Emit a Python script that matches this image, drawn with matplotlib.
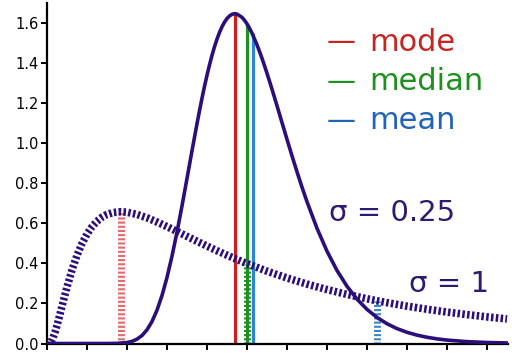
import numpy as np
import matplotlib
matplotlib.use("Agg")
import matplotlib.pyplot as plt
from matplotlib.ticker import MultipleLocator, FixedLocator

# log-normal pdf, sigma = 0.25
x_narrow = [0.0, 0.3, 0.35, 0.4, 0.425, 0.45, 0.475, 0.5, 0.525, 0.55, 0.575,
            0.6, 0.625, 0.65, 0.675, 0.7, 0.725, 0.75, 0.7625, 0.775, 0.7875,
            0.8, 0.8125, 0.825, 0.8375, 0.85, 0.8625, 0.875, 0.8875, 0.9,
            0.9125, 0.925, 0.939, 0.95, 0.975, 0.9875, 1.0, 1.0125, 1.025,
            1.05, 1.0625, 1.075, 1.0875, 1.1, 1.1125, 1.125, 1.1375, 1.15,
            1.175, 1.2, 1.225, 1.25, 1.275, 1.3, 1.35, 1.4, 1.45, 1.5, 1.55,
            1.6, 1.65, 1.7, 1.75, 1.8, 1.85, 1.9, 1.95, 2.0, 2.1, 2.2, 2.3]
y_narrow = [0.0, 0.0, 0.0007, 0.0048, 0.0107, 0.0216, 0.0399, 0.0683, 0.1097,
            0.1663, 0.2395, 0.3299, 0.4361, 0.5561, 0.6870, 0.8239, 0.9623,
            1.0973, 1.1622, 1.2245, 1.2837, 1.3393, 1.3910, 1.4385, 1.4816,
            1.5198, 1.5531, 1.5814, 1.6044, 1.6224, 1.6353, 1.6433, 1.6471,
            1.6448, 1.6283, 1.6139, 1.5958, 1.5741, 1.5493, 1.4911, 1.4584,
            1.4236, 1.3871, 1.3490, 1.3097, 1.2694, 1.2284, 1.1869, 1.1030,
            1.0193, 0.9370, 0.8571, 0.7805, 0.7078, 0.5751, 0.4607, 0.3647,
            0.2855, 0.2215, 0.1703, 0.1300, 0.0987, 0.0744, 0.0559, 0.0418,
            0.0311, 0.0231, 0.0171, 0.0093, 0.0050, 0.0027]

# log-normal pdf, sigma = 1
x_wide = [0.0, 0.005, 0.01, 0.015, 0.02, 0.025, 0.03, 0.04, 0.05, 0.06, 0.07,
          0.08, 0.09, 0.1, 0.125, 0.15, 0.175, 0.2, 0.225, 0.25, 0.275, 0.3,
          0.33, 0.368, 0.4, 0.45, 0.5, 0.55, 0.6, 0.65, 0.7, 0.75, 0.8, 0.85,
          0.9, 0.95, 1.0, 1.1, 1.2, 1.3, 1.4, 1.5, 1.6, 1.65, 1.7, 1.8, 1.9,
          2.0, 2.1, 2.2, 2.3]
y_wide = [0.0, 0.0001, 0.001, 0.0039, 0.0095, 0.0177, 0.0284, 0.0562, 0.0898,
          0.1271, 0.1661, 0.2054, 0.2441, 0.2815, 0.3673, 0.4399, 0.4991,
          0.5463, 0.5828, 0.6104, 0.6305, 0.6442, 0.6538, 0.6577, 0.6555,
          0.6445, 0.6275, 0.6066, 0.5836, 0.5594, 0.5348, 0.5104, 0.4864,
          0.4632, 0.4408, 0.4194, 0.3989, 0.3610, 0.3270, 0.2965, 0.2693,
          0.2450, 0.2233, 0.2133, 0.2039, 0.1865, 0.1709, 0.1569, 0.1443,
          0.1329, 0.1226]

# mode, median, mean positions and curve heights
stat_names = ["mode", "median", "mean"]
stat_x_narrow = [0.939, 1.0, 1.0317]
stat_y_narrow = [1.6471, 1.5958, 1.5500]
stat_x_wide = [0.368, 1.0, 1.6487]
stat_y_wide = [0.6577, 0.3989, 0.2136]

line_cols = ["#cc1f1f", "#1f8f1f", "#2a84dc"]
wide_cols = ["#e46a6a", "#1f8f1f", "#3a86c4"]
text_cols = ["#c42525", "#1f8f1f", "#2363b5"]
curve_col = "#2c0e7a"

fig = plt.figure(figsize=(5.12, 3.57), dpi=100)
ax = fig.add_axes([47 / 512, 1 - 343.5 / 357, (508 - 47) / 512, (343.5 - 3) / 357])

# vertical markers
for xv, yv, c in zip(stat_x_wide, stat_y_wide, wide_cols):
    ax.plot([xv, xv], [0, yv], color=c, lw=5, ls=(0, (0.3, 0.3)), zorder=2)
for xv, yv, c in zip(stat_x_narrow, stat_y_narrow, line_cols):
    ax.plot([xv, xv], [0, yv], color=c, lw=2.3, zorder=2, solid_capstyle="butt")

ax.plot(x_wide, y_wide, color=curve_col, lw=5.5, ls=(0, (0.33, 0.3)), zorder=3)
ax.plot(x_narrow, y_narrow, color=curve_col, lw=2.6, zorder=4,
        solid_joinstyle="round")

ax.set_xlim(0, 2.305)
ax.set_ylim(0, 1.70)
for s in ["top", "right"]:
    ax.spines[s].set_visible(False)
for s in ["left", "bottom"]:
    ax.spines[s].set_linewidth(1.6)

ax.yaxis.set_major_locator(MultipleLocator(0.2))
ax.yaxis.set_major_formatter(matplotlib.ticker.FormatStrFormatter("%.1f"))
ax.tick_params(axis="y", labelsize=10.5, width=1.4, length=4, pad=2)
ax.xaxis.set_major_locator(FixedLocator([1.0]))
ax.xaxis.set_minor_locator(MultipleLocator(0.2))
ax.tick_params(axis="x", which="major", direction="inout", length=9, width=1.4, labelbottom=False)
ax.tick_params(axis="x", which="minor", direction="out", length=4, width=1.4)

# legend drawn as text
for i, (name, c) in enumerate(zip(stat_names, text_cols)):
    yy = 1.505 - 0.197 * i
    ax.text(1.40, yy, "\u2014", color=c, fontsize=21, va="center", ha="left")
    ax.text(1.61, yy, name, color=c, fontsize=22, va="center", ha="left")

ax.text(1.41, 0.65, "\u03c3 = 0.25", color="#2e1a6e", fontsize=21, va="center", ha="left")
ax.text(1.81, 0.295, "\u03c3 = 1", color="#2e1a6e", fontsize=21, va="center", ha="left")

fig.savefig("out.png", dpi=100)
